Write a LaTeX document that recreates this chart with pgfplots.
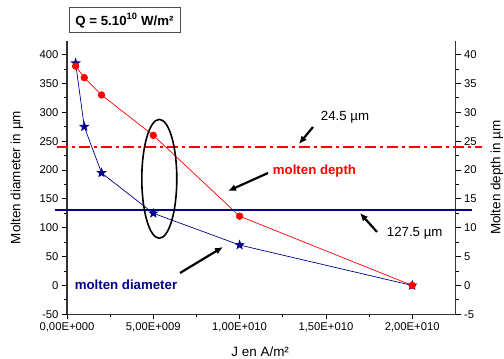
\documentclass[border=0pt]{standalone}
\usepackage{pgfplots}
\pgfplotsset{compat=1.18}
\usepackage{fontspec}
\setmainfont{Liberation Sans}
\usetikzlibrary{arrows.meta,shapes.geometric}
\definecolor{navyb}{RGB}{0,0,140}
\pgfdeclareplotmark{fstar}{\node[star,star points=5,star point ratio=2.4,fill,draw=none,inner sep=0pt,minimum size=2\pgfplotmarksize]{};}
\begin{document}
\begin{tikzpicture}
\useasboundingbox (-67bp,-44.7bp) rectangle (437bp,314.3bp);
\pgfplotsset{common/.style={width=388.7bp,height=273.6bp,scale only axis,
  xmin=0,xmax=2.252e10, clip=false, tick align=outside,
  scaled x ticks=false,
  major tick length=5bp, minor tick length=3bp,
  tick style={black, line width=0.8bp},
  axis line style={black!80, line width=1.2bp},
  /pgf/number format/assume math mode=true,
  tick label style={font=\fontsize{11.3}{13}\selectfont},
  label style={font=\fontsize{13.5}{15}\selectfont}}}
% left axis: molten diameter
\begin{axis}[common, at={(0,0)}, anchor=south west,
  axis x line*=bottom, axis y line*=left,
  ymin=-50, ymax=424, ytick={-50,0,...,400}, minor y tick num=1,
  xtick={0,5e9,1e10,1.5e10,2e10},
  xticklabels={{0,00E+000},{5,00E+009},{1,00E+010},{1,50E+010},{2,00E+010}},
  minor x tick num=1,
  xlabel={J en A/m²},
  xlabel style={at={(axis description cs:0.497,-0.138)},anchor=center},
  ylabel={Molten diameter in µm},
  ylabel style={at={(axis description cs:-0.1286,0.5)},anchor=center,rotate=0}]
\addplot[navyb, line width=0.7bp, mark=fstar, mark size=5.5bp, mark options={fill=navyb}]
  coordinates {(5e8,385) (1e9,275) (2e9,195) (5e9,125) (1e10,70) (2e10,0)};
\end{axis}
% right axis: molten depth
\begin{axis}[common, at={(0,0)}, anchor=south west,
  axis x line=none, axis y line*=right,
  ymin=-5, ymax=42.4, ytick={-5,0,...,40}, minor y tick num=1,
  ylabel={Molten depth in µm},
  ylabel style={at={(axis description cs:1.106,0.5)},anchor=center,rotate=0}]
\addplot[red, line width=0.7bp, mark=*, mark size=3.3bp, mark options={fill=red}]
  coordinates {(5e8,38) (1e9,36) (2e9,33) (5e9,26) (1e10,12) (2e10,0)};
\addplot[red, line width=2.6bp, dash pattern=on 11bp off 4bp on 3bp off 4bp]
  coordinates {(-5.8e8,24) (2.404e10,24)};
\addplot[navyb, line width=2.6bp] coordinates {(-6.95e8,13.1) (2.346e10,13.1)};
\end{axis}
\draw[line width=1.6bp] (92.3bp,135.5bp) ellipse [x radius=17.5bp, y radius=59.4bp];
\node[draw=black!70, line width=1bp, minimum width=111bp, minimum height=25bp,
  font=\bfseries\fontsize{13.3}{15}\selectfont] at (57.5bp,293.8bp) {Q = 5.10\textsuperscript{10} W/m²};
\node[font=\fontsize{13.3}{15}\selectfont] at (278bp,196.8bp) {24.5 µm};
\node[font=\fontsize{13.3}{15}\selectfont] at (347.7bp,80.8bp) {127.5 µm};
\node[font=\bfseries\fontsize{13.3}{15}\selectfont, text=red] at (247.5bp,143.3bp) {molten depth};
\node[font=\bfseries\fontsize{13.3}{15}\selectfont, text=navyb] at (59bp,29.3bp) {molten diameter};
\draw[line width=2.2bp, -{Latex[length=8bp,width=7bp]}] (246bp,187.3bp) -- (232bp,170.3bp);
\draw[line width=2.2bp, -{Latex[length=8bp,width=7bp]}] (310bp,82.3bp) -- (293bp,101.3bp);
\draw[line width=2.2bp, -{Latex[length=8bp,width=7bp]}] (201bp,141.3bp) -- (161bp,123.3bp);
\draw[line width=2.2bp, -{Latex[length=8bp,width=7bp]}] (113bp,41.3bp) -- (156bp,67.3bp);
\end{tikzpicture}
\end{document}
